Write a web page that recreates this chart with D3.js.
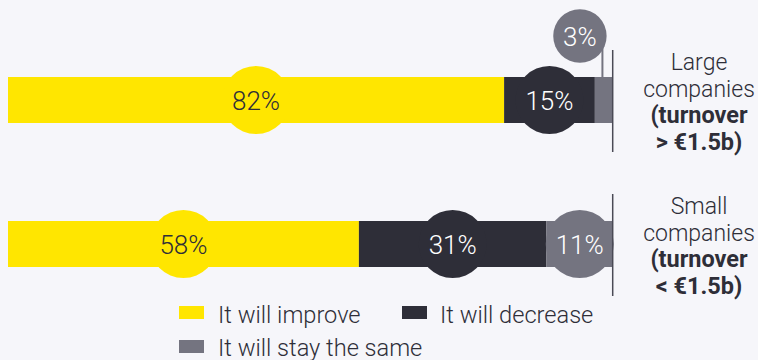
<!DOCTYPE html>
<html>
<head>
<meta charset="utf-8">
<script src="https://cdn.jsdelivr.net/npm/d3@7/dist/d3.min.js"></script>
<style>
  html, body { margin: 0; padding: 0; background: #f6f6fa; }
  svg { display: block; }
  text { font-family: Roboto, "Noto Sans", sans-serif; }
</style>
</head>
<body>
<svg id="chart" width="758" height="360"></svg>
<script>
// Outlook by company size (shares of respondents, %)
const groups = ["large", "small"];
const groupTitle = [["Large", "companies"], ["Small", "companies"]];
const groupNote = [["(turnover", "> €1.5b)"], ["(turnover", "< €1.5b)"]];

const seriesNames = ["It will improve", "It will decrease", "It will stay the same"];
const improve = [82, 58];
const decrease = [15, 31];
const same = [3, 11];

const colors = ["#ffe600", "#2e2e38", "#747480"];
const labelColors = ["#2e2e38", "#ffffff", "#ffffff"];
const ink = "#2e2e38";

const svg = d3.select("#chart");

const x = d3.scaleLinear().domain([0, 100]).range([8, 613]);
const y = d3.scalePoint().domain(groups).range([100, 244]);
const barH = 46;
const r = 34;

const rows = groups.map((g, i) => ({ g, i, values: [improve[i], decrease[i], same[i]] }));
const segs = rows.flatMap(row => {
  let acc = 0;
  return row.values.map((v, k) => {
    const s = { g: row.g, row: row.i, k, v, x0: acc, x1: acc + v };
    acc += v;
    return s;
  });
});

// stacked bars
svg.append("g").selectAll("rect").data(segs).join("rect")
  .attr("x", d => x(d.x0))
  .attr("y", d => y(d.g) - barH / 2)
  .attr("width", d => x(d.x1) - x(d.x0))
  .attr("height", barH)
  .attr("fill", d => colors[d.k]);

// label bubbles: inside the segment when it is wide enough, otherwise lifted above it
segs.forEach(d => {
  const w = x(d.x1) - x(d.x0);
  const mid = (x(d.x0) + x(d.x1)) / 2;
  if (w >= r) {
    d.cx = mid; d.cy = y(d.g); d.r = r; d.lifted = false;
  } else {
    d.cx = mid - 24; d.cy = y(d.g) - 64; d.r = 26.7; d.lifted = true; d.mid = mid;
  }
});

const lifted = segs.filter(d => d.lifted);
svg.append("g").selectAll("line").data(lifted).join("line")
  .attr("x1", d => d.mid - 1.5).attr("x2", d => d.mid - 1.5)
  .attr("y1", d => d.cy).attr("y2", d => y(d.g) - barH / 2)
  .attr("stroke", d => colors[d.k]).attr("stroke-width", 2);

svg.append("g").selectAll("circle").data(segs).join("circle")
  .attr("cx", d => d.cx).attr("cy", d => d.cy).attr("r", d => d.r)
  .attr("fill", d => colors[d.k]);

svg.append("g").selectAll("text").data(segs).join("text")
  .attr("x", d => d.cx).attr("y", d => d.cy + 9.5)
  .attr("text-anchor", "middle")
  .attr("font-size", 26).attr("font-weight", 300)
  .attr("fill", d => labelColors[d.k])
  .text(d => d.v + "%");

// end rules
svg.append("g").selectAll("line").data(groups).join("line")
  .attr("x1", x(100) - 0.3).attr("x2", x(100) - 0.3)
  .attr("y1", g => y(g) - 50).attr("y2", g => y(g) + 52)
  .attr("stroke", "#4a4a55").attr("stroke-width", 1.5);

// row titles at the right
const titles = svg.append("g").selectAll("text").data(groups).join("text")
  .attr("x", 699).attr("text-anchor", "middle")
  .attr("fill", ink);
titles.each(function(g, i) {
  const t = d3.select(this);
  const base = y(g) - 30;
  groupTitle[i].forEach((line, j) => {
    t.append("tspan").attr("x", 699).attr("y", base + j * 26.5)
      .attr("font-size", 23).attr("font-weight", 300).text(line);
  });
  groupNote[i].forEach((line, j) => {
    t.append("tspan").attr("x", 699).attr("y", base + (j + 2) * 26.5)
      .attr("font-size", 23.5).attr("font-weight", 700).text(line);
  });
});

// legend
const legendPos = [
  { sx: 179, sy: 306, tx: 218, ty: 323 },
  { sx: 402, sy: 306, tx: 440, ty: 323 },
  { sx: 179, sy: 340, tx: 218, ty: 356 }
];
const legend = svg.append("g").selectAll("g").data(seriesNames).join("g");
legend.append("rect")
  .attr("x", (d, i) => legendPos[i].sx).attr("y", (d, i) => legendPos[i].sy)
  .attr("width", 25).attr("height", 13)
  .attr("fill", (d, i) => colors[i]);
legend.append("text")
  .attr("x", (d, i) => legendPos[i].tx).attr("y", (d, i) => legendPos[i].ty)
  .attr("font-size", 23.6).attr("font-weight", 300).attr("fill", ink)
  .text(d => d);
</script>
</body>
</html>
